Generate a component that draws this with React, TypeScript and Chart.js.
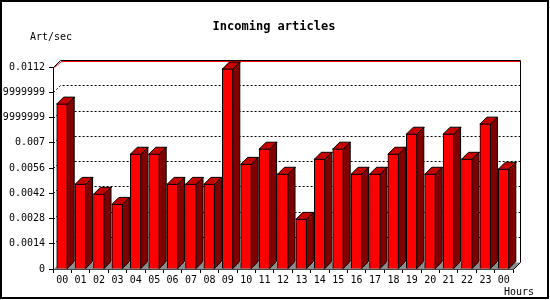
import React, { useEffect, useRef } from "react";
import { Chart, registerables } from "chart.js";

Chart.register(...registerables);

// ---- data ----
const hours = [
  "00", "01", "02", "03", "04", "05", "06", "07", "08", "09", "10", "11",
  "12", "13", "14", "15", "16", "17", "18", "19", "20", "21", "22", "23", "00",
];
const artPerSec = [
  0.00917, 0.00472, 0.00417, 0.00361, 0.00639, 0.00639, 0.00472, 0.00472,
  0.00472, 0.01111, 0.00583, 0.00667, 0.00528, 0.00278, 0.00611, 0.00667,
  0.00528, 0.00528, 0.00639, 0.0075, 0.00528, 0.0075, 0.00611, 0.00806,
  0.00556,
];
const yTickValues = [0, 0.0014, 0.0028, 0.0042, 0.0056, 0.007, 0.0084, 0.0098, 0.0112];
const yTickLabels = [
  "0", "0.0014", "0.0028", "0.0042", "0.0056", "0.007",
  "0.008399999999999999", "0.009799999999999999", "0.0112",
];
const titleText = "Incoming articles";
const yAxisTitle = "Art/sec";
const xAxisTitle = "Hours";

// ---- styling ----
const FONT = "'DejaVu Sans Mono', 'Liberation Mono', monospace";
const DEPTH = 7;
const FRONT = "#ff0000";
const TOP = "#c80000";
const SIDE = "#800000";
const FLOOR = "#8c8c8c";

const threeD = {
  id: "threeD",
  beforeDraw(chart: any) {
    const ctx = chart.ctx;
    ctx.save();
    ctx.fillStyle = "#ffffff";
    ctx.fillRect(0, 0, chart.width, chart.height);
    ctx.restore();
  },
  beforeDatasetsDraw(chart: any) {
    const { ctx, chartArea: a, scales } = chart;
    const y = scales.y;
    const d = DEPTH;
    const L = Math.round(a.left) + 0.5;
    const R = Math.round(a.right) + 0.5;
    const T = Math.round(a.top) + 0.5;
    const B = Math.round(a.bottom) + 0.5;
    ctx.save();
    // floor
    ctx.fillStyle = FLOOR;
    ctx.beginPath();
    ctx.moveTo(L, B);
    ctx.lineTo(R, B);
    ctx.lineTo(R + d, B - d);
    ctx.lineTo(L + d, B - d);
    ctx.closePath();
    ctx.fill();
    // dotted grid on back wall
    ctx.lineWidth = 1;
    ctx.strokeStyle = "#000";
    ctx.setLineDash([2, 2]);
    yTickValues.forEach((v, i) => {
      if (i === 0 || i === yTickValues.length - 1) return;
      const py = Math.round(y.getPixelForValue(v)) + 0.5;
      ctx.beginPath();
      ctx.moveTo(L, py);
      ctx.lineTo(L + d, py - d);
      ctx.lineTo(R + d, py - d);
      ctx.stroke();
    });
    ctx.setLineDash([]);
    // top (max) line in red
    ctx.strokeStyle = "#ff0000";
    ctx.beginPath();
    ctx.moveTo(L + 1, T);
    ctx.lineTo(L + d + 1, T - d + 1);
    ctx.lineTo(R + d, T - d + 1);
    ctx.stroke();
    // walls
    ctx.strokeStyle = "#000";
    ctx.beginPath();
    ctx.moveTo(L, T);
    ctx.lineTo(L + d, T - d);
    ctx.lineTo(R + d, T - d);
    ctx.lineTo(R + d, B - d);
    ctx.lineTo(R, B);
    ctx.stroke();
    ctx.restore();
  },
  afterDatasetsDraw(chart: any) {
    const { ctx } = chart;
    const meta = chart.getDatasetMeta(0);
    const d = DEPTH;
    ctx.save();
    ctx.lineWidth = 1;
    ctx.strokeStyle = "#000";
    ctx.lineJoin = "miter";
    meta.data.forEach((bar: any) => {
      const p = bar.getProps(["x", "y", "base", "width"], true);
      const l = p.x - p.width / 2;
      const r = p.x + p.width / 2;
      const t = p.y;
      const b = p.base;
      // top face
      ctx.fillStyle = TOP;
      ctx.beginPath();
      ctx.moveTo(l, t + 0.5);
      ctx.lineTo(l + d, t - d + 0.5);
      ctx.lineTo(r + d, t - d + 0.5);
      ctx.lineTo(r, t + 0.5);
      ctx.closePath();
      ctx.fill();
      ctx.stroke();
      // side face
      ctx.fillStyle = SIDE;
      ctx.beginPath();
      ctx.moveTo(r - 0.5, t + 0.5);
      ctx.lineTo(r + d - 0.5, t - d + 0.5);
      ctx.lineTo(r + d - 0.5, b - d);
      ctx.lineTo(r - 0.5, b);
      ctx.closePath();
      ctx.fill();
      ctx.stroke();
    });
    ctx.restore();
  },
  afterDraw(chart: any) {
    const { ctx } = chart;
    ctx.save();
    ctx.fillStyle = "#000";
    ctx.textBaseline = "middle";
    ctx.font = `bold 12px ${FONT}`;
    ctx.textAlign = "center";
    ctx.fillText(titleText, 274, 27);
    ctx.font = `10px ${FONT}`;
    ctx.textAlign = "left";
    ctx.fillText(yAxisTitle, 30, 37);
    ctx.textAlign = "right";
    ctx.fillText(xAxisTitle, 534, 292);
    // outer frame
    ctx.fillRect(0, 0, 2, 299);
    ctx.fillRect(0, 0, 549, 2);
    ctx.fillRect(547, 0, 2, 299);
    ctx.fillRect(0, 297, 549, 2);
    ctx.restore();
  },
};

export default function App() {
  const ref = useRef<HTMLCanvasElement>(null);
  useEffect(() => {
    if (!ref.current) return;
    const chart = new Chart(ref.current, {
      type: "bar",
      data: {
        labels: hours,
        datasets: [
          {
            data: artPerSec,
            backgroundColor: FRONT,
            borderColor: "#000",
            borderWidth: 1,
            barThickness: 11,
          },
        ],
      },
      options: {
        animation: false,
        responsive: false,
        devicePixelRatio: 1,
        layout: { padding: { top: 67, right: 37, bottom: 0, left: 0 } },
        plugins: {
          legend: { display: false },
          tooltip: { enabled: false },
          title: { display: false },
        },
        scales: {
          x: {
            type: "category",
            offset: true,
            grid: {
              offset: true,
              drawOnChartArea: false,
              drawTicks: true,
              tickLength: 4,
              color: "#000",
            },
            border: { display: true, color: "#000" },
            ticks: {
              color: "#000",
              font: { family: FONT, size: 10 },
              padding: 1,
              maxRotation: 0,
              autoSkip: false,
            },
            afterFit: (s: any) => {
              s.height = 31;
            },
          },
          y: {
            min: 0,
            max: 0.0112,
            grid: {
              drawOnChartArea: false,
              drawTicks: true,
              tickLength: 4,
              color: "#000",
            },
            border: { display: true, color: "#000" },
            ticks: {
              color: "#000",
              font: { family: FONT, size: 10 },
              padding: 4,
              callback: (_v: any, i: number) => yTickLabels[i],
            },
            afterBuildTicks: (s: any) => {
              s.ticks = yTickValues.map((v) => ({ value: v }));
            },
            afterFit: (s: any) => {
              s.width = 53;
            },
          },
        },
      },
      plugins: [threeD],
    });
    return () => chart.destroy();
  }, []);
  return (
    <div style={{ position: "fixed", left: 0, top: 0, width: 550, height: 300 }}>
      <canvas ref={ref} width={550} height={300} />
    </div>
  );
}
